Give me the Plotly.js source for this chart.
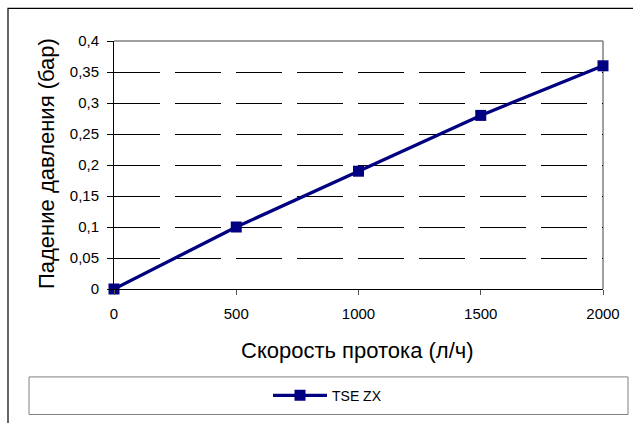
<!DOCTYPE html>
<html>
<head>
<meta charset="utf-8">
<script src="https://cdn.plot.ly/plotly-3.0.1.min.js"></script>
<style>
html,body{margin:0;padding:0;background:#fff;}
#chart{width:633px;height:423px;}
</style>
</head>
<body>
<div id="chart"></div>
<script>
const flowRates = [0, 500, 1000, 1500, 2000];
const pressureDrop = [0, 0.1, 0.19, 0.28, 0.36];
const seriesName = 'TSE ZX';
const xTitle = 'Скорость протока (л/ч)';
const yTitle = 'Падение давления (бар)';
const yTicks = [0, 0.05, 0.1, 0.15, 0.2, 0.25, 0.3, 0.35, 0.4];
const xTicks = [0, 500, 1000, 1500, 2000];

const W = 633, H = 423;
const L = 114, R = 30, T = 41, B = 131;
const pw = W - L - R, ph = H - T - B;
const px = v => (v - L) / pw;
const py = v => (H - B - v) / ph;

const font = 'Liberation Sans, Arial, sans-serif';
const navy = '#000080';

const trace = {
  x: flowRates, y: pressureDrop, name: seriesName,
  type: 'scatter', mode: 'lines+markers',
  line: {color: navy, width: 3.3},
  marker: {symbol: 'square', size: 11, color: navy},
  cliponaxis: false
};

const layout = {
  width: W, height: H,
  margin: {l: L, r: R, t: T, b: B, pad: 0},
  paper_bgcolor: '#fff', plot_bgcolor: '#fff',
  separators: ', ',
  font: {family: font, color: '#000', size: 15},
  showlegend: true,
  xaxis: {
    range: [0, 2000], tickvals: xTicks, ticks: 'outside', ticklen: 5,
    tickcolor: '#555', tickwidth: 1, showgrid: false, zeroline: false,
    showline: true, linecolor: '#000', linewidth: 1, ticklabelstandoff: 6,
    tickfont: {size: 15, family: font}, fixedrange: true
  },
  yaxis: {
    range: [0, 0.4], tickvals: yTicks, ticks: 'outside', ticklen: 6,
    tickcolor: '#000', tickwidth: 1, showgrid: true, gridcolor: '#000',
    gridwidth: 1, griddash: '46px,15px', zeroline: false,
    showline: true, linecolor: '#000', linewidth: 1, ticklabelstandoff: 5,
    tickfont: {size: 15, family: font}, fixedrange: true
  },
  legend: {
    orientation: 'h', x: px(268), xanchor: 'left', y: py(400), yanchor: 'middle',
    bgcolor: 'rgba(0,0,0,0)', borderwidth: 0, itemwidth: 54,
    font: {size: 14, family: font}
  },
  annotations: [
    {text: xTitle, xref: 'paper', yref: 'paper', x: px(357), y: py(354),
     xanchor: 'center', yanchor: 'middle', showarrow: false,
     font: {size: 22, family: font}},
    {text: yTitle, xref: 'paper', yref: 'paper', x: px(46), y: py(165.5),
     xanchor: 'center', yanchor: 'middle', showarrow: false, textangle: -90,
     font: {size: 22, family: font}}
  ],
  shapes: [
    {type: 'rect', xref: 'paper', yref: 'paper', x0: px(8), x1: px(640), y0: py(8), y1: py(440),
     line: {color: '#000', width: 1.2}, layer: 'below'},
    {type: 'rect', xref: 'paper', yref: 'paper', x0: px(29), x1: px(628), y0: py(381), y1: py(419),
     line: {color: '#808080', width: 1}, layer: 'below'},
    {type: 'line', xref: 'paper', yref: 'paper', x0: 0, x1: 1, y0: 1, y1: 1,
     line: {color: '#808080', width: 1.5}, layer: 'above'},
    {type: 'line', xref: 'paper', yref: 'paper', x0: 1, x1: 1, y0: 0, y1: 1,
     line: {color: '#808080', width: 1.5}, layer: 'below'}
  ]
};

Plotly.newPlot('chart', [trace], layout, {displayModeBar: false, staticPlot: true});
</script>
</body>
</html>
